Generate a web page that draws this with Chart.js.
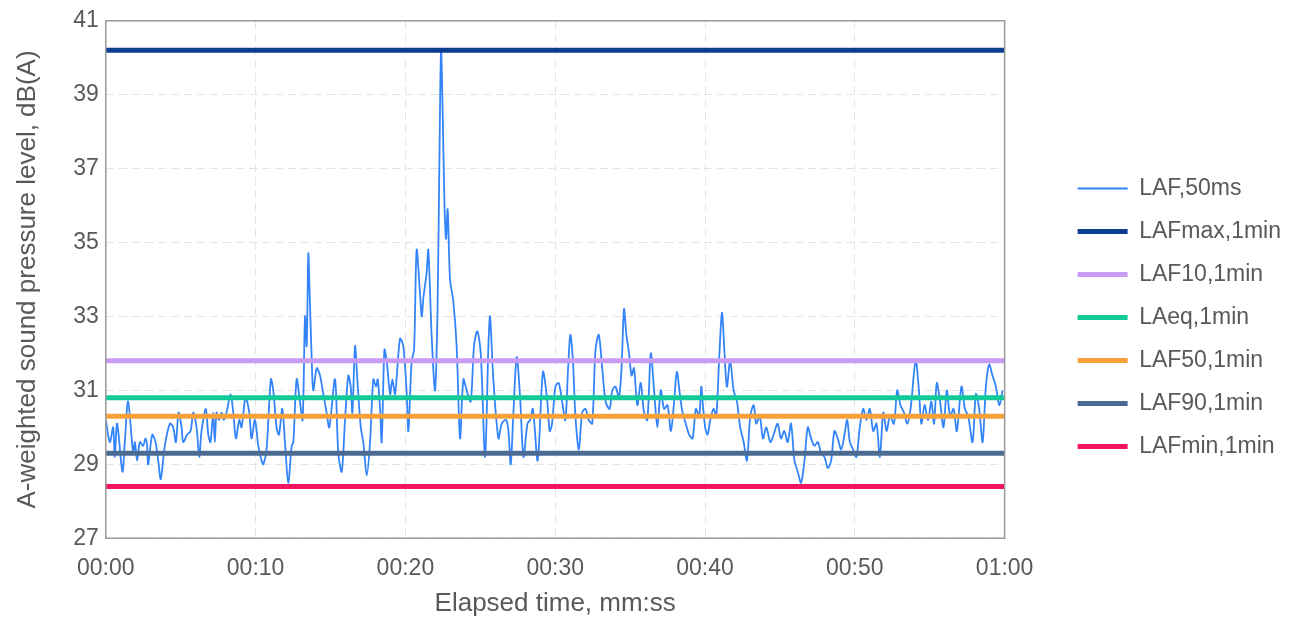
<!DOCTYPE html>
<html>
<head>
<meta charset="utf-8">
<script src="https://cdn.jsdelivr.net/npm/chart.js@4"></script>
<style>
  html, body { margin: 0; padding: 0; background: #fff; }
  #wrap { width: 1296px; height: 619px; }
</style>
</head>
<body>
<div id="wrap"><canvas id="myChart" width="1296" height="619"></canvas></div>
<script>
// LAF,50ms trace: elapsed seconds and level in dB(A)
const lafTime = [
  0.00, 0.27, 0.49, 0.60, 0.76, 1.11, 1.27, 1.49, 1.83, 1.94, 2.09, 2.27, 2.49, 2.65, 2.76, 2.83,
  3.10, 3.32, 3.50, 3.67, 3.94, 4.28, 4.50, 4.68, 4.86, 5.06, 5.17, 5.43, 5.66, 5.84, 6.06, 6.24,
  6.39, 6.68, 6.84, 6.99, 7.17, 7.28, 7.39, 7.55, 7.73, 7.88, 8.06, 8.33, 8.51, 8.69, 8.91, 9.06,
  9.33, 9.58, 9.73, 9.96, 10.18, 10.40, 10.51, 10.73, 11.02, 11.18, 11.40, 11.56, 11.78, 11.96, 12.18, 12.41,
  12.52, 12.74, 12.96, 13.14, 13.30, 13.41, 13.52, 13.59, 13.74, 13.85, 14.08, 14.30, 14.52, 14.74, 14.92, 15.30,
  15.52, 15.75, 15.97, 16.19, 16.35, 16.46, 16.64, 16.79, 17.02, 17.19, 17.42, 17.64, 17.86, 18.04, 18.15, 18.31,
  18.42, 18.60, 18.75, 18.98, 19.13, 19.31, 19.64, 19.86, 20.09, 20.20, 20.42, 20.58, 20.75, 20.98, 21.09, 21.20,
  21.42, 21.53, 21.76, 21.98, 22.14, 22.27, 22.38, 22.49, 22.60, 22.71, 22.82, 22.98, 23.20, 23.42, 23.65, 23.87,
  24.09, 24.36, 24.58, 24.80, 25.03, 25.32, 25.54, 25.65, 25.87, 26.21, 26.43, 26.72, 26.88, 27.03, 27.21, 27.43,
  27.66, 27.88, 28.15, 28.33, 28.51, 28.83, 29.18, 29.45, 29.63, 29.79, 30.01, 30.23, 30.46, 30.68, 30.86, 31.01,
  31.17, 31.35, 31.58, 31.80, 32.02, 32.24, 32.47, 32.69, 32.91, 33.14, 33.36, 33.63, 33.81, 34.03, 34.25, 34.43,
  34.59, 34.75, 34.93, 35.10, 35.26, 35.48, 35.71, 35.93, 36.15, 36.38, 36.60, 36.82, 37.05, 37.27, 37.50, 37.72,
  37.94, 38.12, 38.32, 38.50, 38.72, 38.94, 39.17, 39.39, 39.61, 39.75, 39.86, 40.01, 40.17, 40.35, 40.57, 40.75,
  40.95, 41.13, 41.29, 41.46, 41.68, 41.91, 42.13, 42.35, 42.58, 42.80, 43.02, 43.25, 43.42, 43.65, 43.87, 44.09,
  44.36, 44.58, 44.85, 45.07, 45.29, 45.52, 45.74, 45.97, 46.19, 46.41, 46.64, 46.86, 47.08, 47.31, 47.53, 47.75,
  47.97, 48.20, 48.42, 48.64, 48.86, 49.09, 49.31, 49.49, 49.67, 49.89, 50.11, 50.33, 50.56, 50.78, 51.00, 51.23,
  51.45, 51.67, 51.90, 52.12, 52.34, 52.61, 52.83, 53.05, 53.28, 53.50, 53.72, 54.06, 54.28, 54.44, 54.66, 54.89,
  55.11, 55.29, 55.47, 55.69, 55.92, 56.14, 56.36, 56.59, 56.81, 57.12, 57.35, 57.57, 57.86, 58.08, 58.30, 58.53,
  58.75, 58.97, 59.19, 59.42, 59.64, 59.86
];
const lafLevel = [
  30.2, 29.6, 30.0, 29.2, 30.1, 28.8, 29.6, 30.7, 29.3, 29.6, 29.1, 29.6, 29.5, 29.7, 29.5, 29.0,
  29.8, 29.6, 29.1, 28.6, 29.5, 30.1, 30.0, 29.6, 30.4, 30.0, 29.6, 29.8, 29.9, 30.4, 30.0, 29.2,
  29.9, 30.5, 29.8, 29.6, 30.4, 29.6, 30.4, 30.2, 30.4, 30.2, 30.4, 30.9, 30.4, 29.7, 30.2, 30.0,
  30.8, 30.4, 29.7, 30.2, 29.5, 29.1, 29.0, 29.4, 31.3, 31.0, 30.0, 29.8, 30.5, 29.6, 28.5, 29.5,
  29.6, 31.3, 30.7, 30.2, 33.0, 32.2, 34.7, 33.9, 31.9, 31.0, 31.6, 31.4, 30.9, 30.4, 30.0, 31.3,
  29.3, 28.8, 30.2, 31.4, 31.1, 30.4, 32.2, 31.3, 30.0, 29.6, 28.7, 29.6, 31.3, 31.1, 31.3, 30.5,
  29.6, 32.1, 31.8, 30.9, 31.3, 30.9, 32.4, 32.2, 30.9, 29.9, 31.8, 32.1, 34.8, 33.6, 33.0, 33.5,
  34.2, 34.8, 32.4, 31.0, 33.1, 37.2, 40.2, 38.5, 36.2, 35.1, 35.9, 34.0, 33.4, 32.2, 29.7, 31.3,
  31.0, 30.7, 32.2, 32.6, 32.0, 29.2, 32.2, 33.0, 31.3, 29.7, 30.1, 30.2, 29.9, 29.0, 30.4, 31.9,
  30.8, 29.2, 30.1, 30.2, 30.5, 29.1, 31.5, 30.8, 29.9, 30.1, 31.1, 31.2, 30.7, 30.2, 31.6, 32.5,
  31.9, 30.3, 29.4, 30.4, 30.5, 30.2, 30.1, 32.1, 32.5, 31.6, 30.7, 30.5, 31.0, 31.1, 30.8, 31.6,
  33.2, 32.5, 32.0, 31.4, 31.6, 30.6, 31.2, 30.4, 30.2, 32.0, 31.0, 30.0, 31.0, 30.5, 30.6, 29.9,
  30.7, 31.5, 30.9, 30.4, 30.1, 29.8, 29.7, 30.5, 30.3, 31.1, 30.6, 30.0, 29.8, 30.2, 30.5, 30.3,
  31.9, 33.1, 32.1, 31.1, 31.8, 31.0, 30.7, 30.0, 29.6, 29.1, 30.3, 30.6, 30.1, 30.3, 29.7, 30.0,
  29.6, 29.8, 30.1, 29.7, 29.9, 29.6, 30.1, 29.1, 28.8, 28.5, 29.1, 30.0, 29.7, 29.5, 29.6, 29.3,
  29.2, 28.9, 29.1, 29.9, 29.7, 29.4, 29.8, 30.2, 29.6, 29.4, 29.2, 30.0, 30.5, 30.2, 30.5, 29.9,
  30.1, 29.2, 30.4, 29.9, 30.3, 30.1, 31.0, 30.6, 30.4, 30.1, 30.5, 31.8, 31.0, 30.1, 30.6, 30.2,
  30.7, 30.1, 31.2, 30.7, 30.0, 31.0, 30.3, 30.5, 29.9, 31.1, 30.5, 30.3, 29.6, 30.9, 30.5, 29.6,
  31.1, 31.7, 31.4, 31.1, 30.6, 31.0
];

// one-minute statistics, drawn as flat lines across the whole minute
const statLabels = ['LAFmax,1min', 'LAF10,1min', 'LAeq,1min', 'LAF50,1min', 'LAF90,1min', 'LAFmin,1min'];
const statLevels = [40.2, 31.8, 30.8, 30.3, 29.3, 28.4];
const statColors = ['#0b3d91', '#c99cf3', '#12c998', '#f8a13b', '#4c6b93', '#f3145e'];

const xTicks = [0, 10, 20, 30, 40, 50, 60];
const yTicks = [27, 29, 31, 33, 35, 37, 39, 41];

const textColor = '#595959';
const fontFamily = "'Liberation Sans', Arial, sans-serif";

const fmtTime = (s) => {
    const m = Math.floor(s / 60);
    const sec = Math.round(s - m * 60);
    return String(m).padStart(2, '0') + ':' + String(sec).padStart(2, '0');
};

const datasets = [
    {
        label: 'LAF,50ms',
        data: lafTime.map((t, i) => ({x: t, y: lafLevel[i]})),
        borderColor: '#3384fa',
        backgroundColor: '#3384fa',
        borderWidth: 1.8,
        pointRadius: 0,
        tension: 0.3,
        order: 1
    }
];
statLabels.forEach((name, i) => {
    datasets.push({
        label: name,
        data: [{x: xTicks[0], y: statLevels[i]}, {x: xTicks[xTicks.length - 1], y: statLevels[i]}],
        borderColor: statColors[i],
        backgroundColor: statColors[i],
        borderWidth: 5,
        borderCapStyle: 'round',
        pointRadius: 0,
        order: 0
    });
});

// grey frame around the plot area
const frame = {
    id: 'frame',
    afterDatasetsDraw(chart) {
        const {ctx, chartArea: a} = chart;
        ctx.save();
        ctx.strokeStyle = '#9a9a9a';
        ctx.lineWidth = 1.5;
        ctx.strokeRect(a.left, a.top, a.right - a.left, a.bottom - a.top);
        ctx.restore();
    }
};

const config = {
    type: 'line',
    data: {datasets: datasets},
    options: {
        responsive: false,
        animation: false,
        layout: {padding: {top: 16, left: 8, right: 5, bottom: 0}},
        plugins: {
            legend: {
                position: 'right',
                maxWidth: 300,
                labels: {
                    usePointStyle: true,
                    pointStyle: 'line',
                    pointStyleWidth: 50,
                    padding: 20,
                    color: textColor,
                    font: {family: fontFamily, size: 23},
                    sort: (a, b) => a.datasetIndex - b.datasetIndex
                }
            },
            tooltip: {enabled: false}
        },
        scales: {
            x: {
                type: 'linear',
                min: xTicks[0],
                max: xTicks[xTicks.length - 1],
                afterBuildTicks: (scale) => { scale.ticks = xTicks.map(v => ({value: v})); },
                ticks: {
                    color: textColor,
                    padding: 17,
                    maxRotation: 0,
                    font: {family: fontFamily, size: 23},
                    callback: (v) => fmtTime(v)
                },
                grid: {color: '#e4e4e4', lineWidth: 1, drawTicks: false},
                border: {display: false, dash: [8, 5]},
                title: {
                    display: true,
                    text: 'Elapsed time, mm:ss',
                    color: textColor,
                    font: {family: fontFamily, size: 26},
                    padding: {top: -12, bottom: 0}
                }
            },
            y: {
                min: yTicks[0],
                max: yTicks[yTicks.length - 1],
                afterBuildTicks: (scale) => { scale.ticks = yTicks.map(v => ({value: v})); },
                ticks: {
                    color: textColor,
                    padding: 7,
                    font: {family: fontFamily, size: 23}
                },
                grid: {color: '#e4e4e4', lineWidth: 1, drawTicks: false},
                border: {display: false, dash: [8, 5]},
                title: {
                    display: true,
                    text: 'A-weighted sound pressure level, dB(A)',
                    color: textColor,
                    font: {family: fontFamily, size: 26},
                    padding: {top: 4, bottom: 23}
                }
            },
            // empty axis that only keeps a gap between the plot and the legend
            gap: {
                type: 'linear',
                position: 'right',
                display: true,
                grid: {display: false},
                ticks: {display: false},
                border: {display: false},
                afterFit: (scale) => { scale.width = 53; }
            }
        }
    },
    plugins: [frame]
};

const ctx = document.getElementById('myChart').getContext('2d');
new Chart(ctx, config);
</script>
</body>
</html>
